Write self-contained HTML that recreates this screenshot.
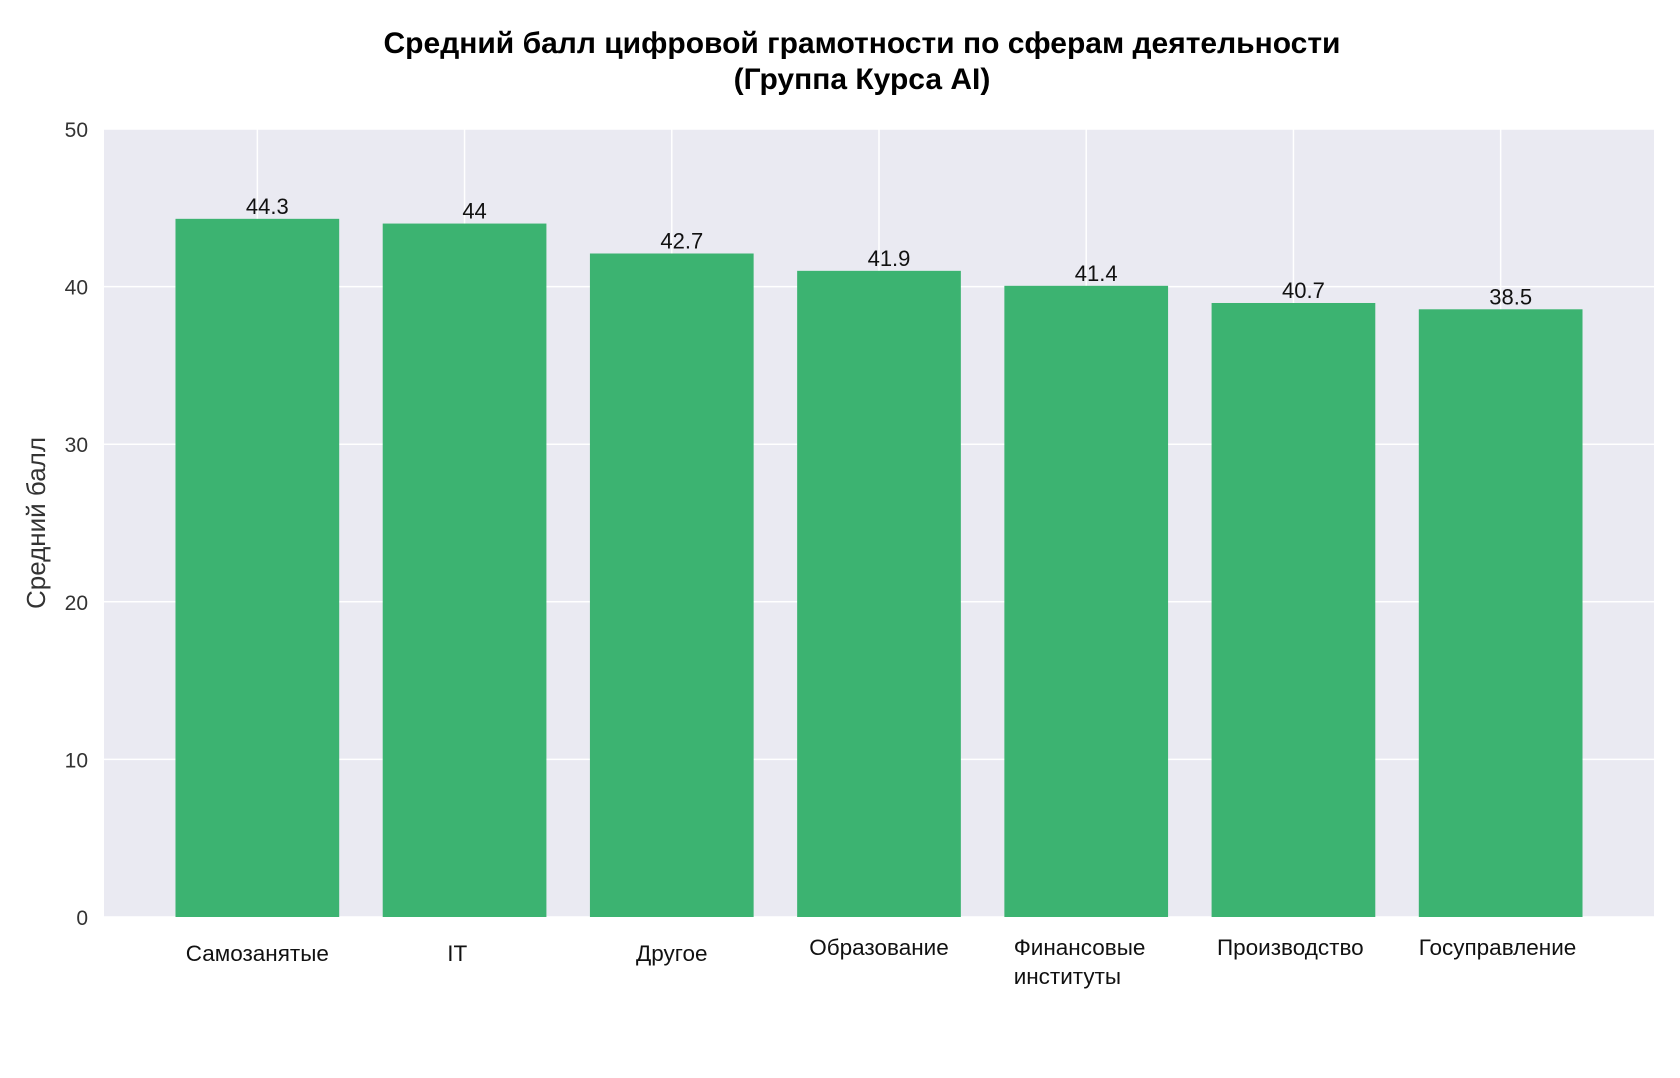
<!DOCTYPE html>
<html><head><meta charset="utf-8"><style>
body{margin:0;background:#fff;}
svg text{font-family:"Liberation Sans","DejaVu Sans",sans-serif;}
</style></head><body>
<svg id="chart" width="1680" height="1073" xmlns="http://www.w3.org/2000/svg">
<rect width="1680" height="1073" fill="#fff"/>
<text x="862" y="53" text-anchor="middle" font-size="30" font-weight="bold" fill="#000">Средний балл цифровой грамотности по сферам деятельности</text>
<text x="862" y="89" text-anchor="middle" font-size="30" font-weight="bold" fill="#000">(Группа Курса AI)</text>
<rect x="104" y="129" width="1550" height="788" fill="#eaeaf2"/>
<g id="grid"></g><g id="bars"></g><g id="labels"></g><g id="yticks"></g><g id="xticks"></g>
<text transform="translate(45,523) rotate(-90)" text-anchor="middle" font-size="26" fill="#333">Средний балл</text>
</svg>
<script>
const categories=["Самозанятые","IT","Другое","Образование","Финансовые институты","Производство","Госуправление"];
const values=[44.3,44.0,42.1,41.0,40.05,38.96,38.56];
const valueLabels=["44.3","44","42.7","41.9","41.4","40.7","38.5"];
const yTicks=[0,10,20,30,40,50];
const NS="http://www.w3.org/2000/svg";
const L=104,R=1654,T=129,B=917,ymax=50,x0=-0.74,x1=6.74;
const xs=i=>L+(i-x0)/(x1-x0)*(R-L);
const ys=v=>B-v/ymax*(B-T);
const pitch=(R-L)/(x1-x0),bw=pitch*0.79;
function mk(tag,attrs,parent,txt){const e=document.createElementNS(NS,tag);for(const k in attrs)e.setAttribute(k,attrs[k]);if(txt!==undefined)e.textContent=txt;document.getElementById(parent).appendChild(e);return e;}
yTicks.forEach(t=>{
  const g=mk('line',{x1:L,x2:R,y1:ys(t),y2:ys(t),stroke:'#fff','stroke-width':1.5},'grid');
  
  
  const tx=mk('text',{x:88,y:ys(t)+8,'text-anchor':'end','font-size':21,fill:'#333'},'yticks',String(t));
  
  
});
const labelPos=[[0,961,'middle'],[-0.07,961,'middle'],[0,961,'middle'],[0,955,'middle'],[-0.7,955,'start'],[-0.03,955,'middle'],[-0.03,955,'middle']];
categories.forEach((c,i)=>{
  const g=mk('line',{x1:xs(i),x2:xs(i),y1:T,y2:B,stroke:'#fff','stroke-width':1.5},'grid');
  
  
  const r=mk('rect',{x:xs(i)-bw/2,y:ys(values[i]),width:bw,height:B-ys(values[i]),fill:'#3cb371'},'bars');
  
  
  const v=mk('text',{x:xs(i)+10,y:ys(values[i])-5,'text-anchor':'middle','font-size':22,fill:'#111'},'labels',valueLabels[i]);
  
  
  const p=labelPos[i];
  const words=c.split(' ');
  const t=mk('text',{x:xs(i)+p[0]*pitch/2,y:p[1],'text-anchor':p[2],'font-size':22.5,fill:'#111'},'xticks');
  
  
  if(words.length>1&&p[2]==='start'){words.forEach((w,j)=>{const s=document.createElementNS(NS,'tspan');s.setAttribute('x',xs(i)+p[0]*pitch/2);s.setAttribute('dy',j?29:0);s.textContent=w;t.appendChild(s);});}
  else t.textContent=c;
});
</script>
</body></html>
